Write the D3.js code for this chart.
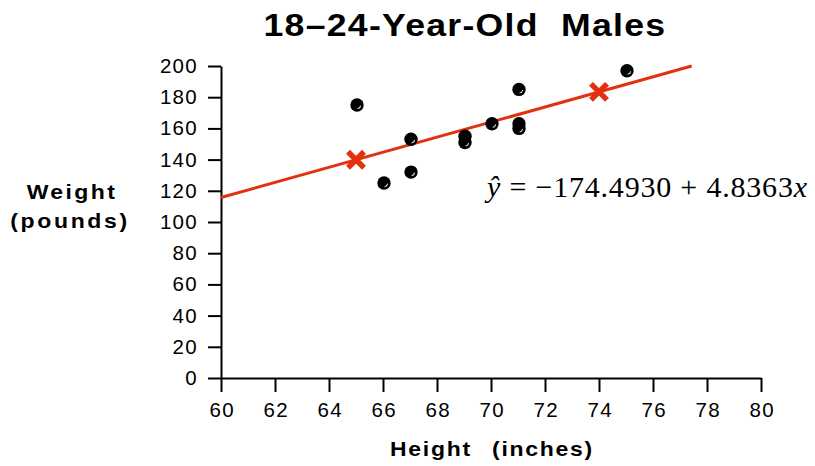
<!DOCTYPE html>
<html>
<head>
<meta charset="utf-8">
<script src="https://cdn.jsdelivr.net/npm/d3@7"></script>
<style>
  body { margin: 0; background: #fff; }
  .axis path, .axis line { stroke: #000; stroke-width: 2; }
  .axis text { font-family: "Liberation Sans", Arial, sans-serif; font-size: 20.5px; letter-spacing: 1.3px; fill: #000; }
  .label { font-family: "Liberation Sans", Arial, sans-serif; font-weight: bold; font-size: 20px; white-space: pre; }
</style>
</head>
<body>
<div id="chart"></div>
<script>
const heights = [65, 66, 67, 67, 69, 69, 70, 71, 71, 71, 75];
const weights = [175, 125, 153, 132, 155, 151, 163, 185, 163, 160, 197];
const xTicks = [60, 62, 64, 66, 68, 70, 72, 74, 76, 78, 80];
const yTicks = [0, 20, 40, 60, 80, 100, 120, 140, 160, 180, 200];
const intercept = -174.4930;
const slope = 4.8363;
const markedHeights = [65, 74];

const RED = "#e3300f";
const W = 815, H = 466;
const STRETCH = 1.15;

const x = d3.scaleLinear().domain([60, 80]).range([221, 761]);
const y = d3.scaleLinear().domain([0, 200]).range([378, 66]);
const fit = h => intercept + slope * h;

const svg = d3.select("#chart").append("svg")
    .attr("width", W)
    .attr("height", H);

// bold text that is a bit wider than the font normally is
const wideText = (px, py, txt, anchor, spacing) => svg.append("text")
    .attr("class", "label")
    .attr("transform", `translate(${px},${py}) scale(${STRETCH},1)`)
    .attr("text-anchor", anchor)
    .style("letter-spacing", spacing + "px")
    .text(txt);

// title
wideText(465, 36, "18\u201324-Year-Old  Males", "middle", 1.1)
    .style("font-size", "31px");

// axes
svg.append("g")
    .attr("class", "axis axis-x")
    .attr("transform", "translate(0,378)")
    .call(d3.axisBottom(x).tickValues(xTicks).tickSize(14).tickSizeOuter(0).tickPadding(10));

svg.append("g")
    .attr("class", "axis axis-y")
    .attr("transform", "translate(221,0)")
    .call(d3.axisLeft(y).tickValues(yTicks).tickSize(13).tickSizeOuter(0).tickPadding(10));

svg.selectAll(".axis-x .tick text").attr("dx", "0.65px");

// axis labels
wideText(72, 199, "Weight", "middle", 2.1);
wideText(70, 228, "(pounds)", "middle", 2.3);
wideText(390, 456, "Height", "start", 1.5);
wideText(492, 456, "(inches)", "start", 1.5);

// regression line, from 60 to where it hits 200
const xEnd = (200 - intercept) / slope;
svg.append("line")
    .attr("x1", x(60)).attr("y1", y(fit(60)))
    .attr("x2", x(xEnd)).attr("y2", y(fit(xEnd)))
    .attr("stroke", RED)
    .attr("stroke-width", 3);

// data points
const pts = svg.append("g").attr("class", "points");
const glint = d3.arc().innerRadius(3.2).outerRadius(4.2)
    .startAngle(Math.PI * 0.55).endAngle(Math.PI * 0.95);
heights.forEach((h, i) => {
    const cx = x(h) + 1, cy = y(weights[i]);
    pts.append("circle")
        .attr("cx", cx).attr("cy", cy).attr("r", 6.7)
        .attr("fill", "#000");
    pts.append("path")
        .attr("transform", `translate(${cx},${cy})`)
        .attr("d", glint())
        .attr("fill", "#fff")
        .attr("opacity", 0.85);
});

// X markers on the fitted line
markedHeights.forEach(h => {
    const g = svg.append("g").attr("transform", `translate(${x(h)},${y(fit(h))})`);
    const s = 8;
    g.append("line").attr("x1", -s).attr("y1", -s).attr("x2", s).attr("y2", s);
    g.append("line").attr("x1", -s).attr("y1", s).attr("x2", s).attr("y2", -s);
    g.selectAll("line").attr("stroke", RED).attr("stroke-width", 5.5);
});

// equation
const eq = svg.append("text")
    .attr("x", 487).attr("y", 197)
    .style("font-family", "\"Liberation Serif\", \"Times New Roman\", serif")
    .style("font-size", "30px")
    .style("letter-spacing", "0.8px")
    .style("white-space", "pre");
eq.append("tspan").style("font-style", "italic").text("\u0177");
eq.append("tspan").text(" = \u2212174.4930 + 4.8363");
eq.append("tspan").style("font-style", "italic").text("x");
</script>
</body>
</html>
